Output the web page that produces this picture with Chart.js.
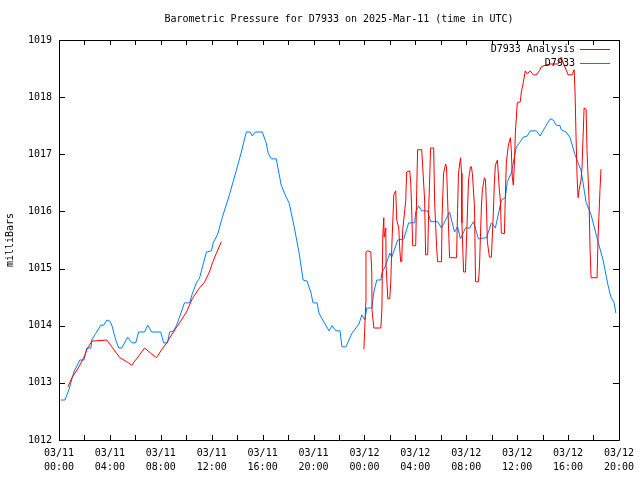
<!DOCTYPE html>
<html>
<head>
<meta charset="utf-8">
<title>Barometric Pressure for D7933</title>
<script src="https://cdn.jsdelivr.net/npm/chart.js@4/dist/chart.umd.min.js"></script>
<style>
  html, body { margin: 0; padding: 0; background: #fff; }
  #wrap { width: 640px; height: 480px; }
</style>
</head>
<body>
<div id="wrap"><canvas id="chart" width="640" height="480"></canvas></div>
<script>
// ── Data (hours since 03/11 00:00 UTC, millibars) ────────────
const titleText = 'Barometric Pressure for D7933 on 2025-Mar-11 (time in UTC)';
const tickDates = ['03/11', '03/11', '03/11', '03/11', '03/11', '03/11',
                   '03/12', '03/12', '03/12', '03/12', '03/12', '03/12'];
const tickTimes = ['00:00', '04:00', '08:00', '12:00', '16:00', '20:00',
                   '00:00', '04:00', '08:00', '12:00', '16:00', '20:00'];

const stationHours = [
    0.13, 0.47, 0.78, 1.17, 1.64, 1.96, 2.19, 2.51, 2.58, 2.90, 3.29, 3.52, 3.76, 3.99,
    4.15, 4.46, 4.70, 4.93, 5.40, 5.72, 6.03, 6.26, 6.73, 6.97, 7.28, 7.99, 8.22, 8.53,
    8.69, 9.00, 9.24, 9.47, 9.86, 10.26, 10.49, 10.80, 11.04, 11.27, 11.59, 11.98, 12.13,
    12.45, 12.84, 13.39, 13.94, 14.33, 14.72, 15.03, 15.19, 15.42, 15.97, 16.28, 16.44,
    16.68, 17.07, 17.46, 17.85, 18.08, 18.48, 18.87, 19.18, 19.49, 19.81, 19.96, 20.28,
    20.43, 20.67, 21.22, 21.45, 21.76, 22.08, 22.23, 22.55, 23.02, 23.57, 23.80, 24.03,
    24.19, 24.58, 24.74, 24.97, 25.29, 25.37, 25.68, 25.99, 26.15, 26.62, 27.09, 27.48,
    27.95, 28.03, 28.26, 28.50, 28.97, 29.20, 29.75, 30.06, 30.69, 31.08, 31.32, 31.55,
    31.94, 32.26, 32.57, 32.96, 33.59, 33.98, 34.29, 34.76, 35.07, 35.23, 35.54, 35.94,
    36.25, 36.48, 36.80, 37.03, 37.50, 37.81, 38.21, 38.60, 38.83, 39.07, 39.38, 39.46,
    39.85, 40.16, 40.55, 41.02, 41.42, 41.81, 42.36, 42.75, 43.14, 43.37, 43.61, 43.76
];
const stationPressure = [
    1012.70, 1012.70, 1012.88, 1013.19, 1013.40, 1013.40, 1013.61, 1013.61, 1013.75, 1013.87,
    1014.01, 1014.01, 1014.10, 1014.08, 1014.01, 1013.75, 1013.61, 1013.61, 1013.80, 1013.70,
    1013.70, 1013.89, 1013.89, 1014.01, 1013.89, 1013.89, 1013.70, 1013.70, 1013.89, 1013.91,
    1014.01, 1014.15, 1014.40, 1014.40, 1014.57, 1014.75, 1014.83, 1015.03, 1015.29, 1015.31,
    1015.46, 1015.59, 1015.90, 1016.29, 1016.72, 1017.04, 1017.39, 1017.39, 1017.32, 1017.39,
    1017.39, 1017.20, 1017.02, 1016.92, 1016.92, 1016.46, 1016.25, 1016.15, 1015.73, 1015.27,
    1014.80, 1014.78, 1014.57, 1014.40, 1014.40, 1014.22, 1014.12, 1013.91, 1014.00, 1013.91,
    1013.91, 1013.63, 1013.63, 1013.87, 1014.03, 1014.19, 1014.10, 1014.31, 1014.31, 1014.59,
    1014.80, 1014.80, 1014.92, 1015.06, 1015.27, 1015.20, 1015.50, 1015.52, 1015.80, 1015.80,
    1015.99, 1016.10, 1016.01, 1016.01, 1015.82, 1015.82, 1015.71, 1015.99, 1015.64, 1015.73,
    1015.52, 1015.71, 1015.71, 1015.82, 1015.52, 1015.54, 1015.80, 1015.71, 1016.20, 1016.24,
    1016.52, 1016.67, 1017.13, 1017.22, 1017.30, 1017.32, 1017.41, 1017.41, 1017.32, 1017.48,
    1017.62, 1017.60, 1017.51, 1017.50, 1017.43, 1017.39, 1017.29, 1016.99, 1016.72, 1016.16,
    1015.94, 1015.47, 1015.15, 1014.71, 1014.50, 1014.41, 1014.22
];

// analysis series has a gap (null) between the two runs
const analysisHours = [
    0.70, 1.02, 1.57, 1.96, 2.19, 2.58, 3.76, 4.15, 4.78, 5.25, 5.72, 6.26, 6.73, 7.20,
    7.67, 8.06, 8.46, 8.93, 9.47, 10.02, 10.49, 11.04, 11.43, 11.82, 12.06, 12.37, 12.76,
    18.00,
    23.96, 24.11, 24.12, 24.27, 24.50, 24.58, 24.60, 24.74, 25.29, 25.37, 25.44, 25.52,
    25.55, 25.68, 25.70, 25.84, 25.99, 26.07, 26.15, 26.31, 26.46, 26.54, 26.70, 26.78,
    26.85, 26.93, 27.01, 27.24, 27.32, 27.56, 27.64, 27.71, 27.79, 28.03, 28.11, 28.18,
    28.50, 28.58, 28.73, 28.81, 28.97, 29.05, 29.20, 29.44, 29.52, 29.67, 29.75, 30.06,
    30.10, 30.22, 30.38, 30.45, 30.53, 30.69, 31.24, 31.32, 31.39, 31.55, 31.63, 31.66,
    31.79, 31.94, 32.02, 32.18, 32.33, 32.41, 32.49, 32.65, 32.73, 32.96, 33.04, 33.19,
    33.27, 33.43, 33.51, 33.59, 33.66, 33.82, 33.98, 34.06, 34.13, 34.21, 34.29, 34.45,
    34.60, 34.68, 34.76, 35.00, 35.07, 35.15, 35.31, 35.47, 35.54, 35.62, 35.70, 35.78,
    35.86, 36.01, 36.25, 36.33, 36.48, 36.64, 36.80, 37.03, 37.27, 37.50, 37.74, 37.89,
    38.21, 38.60, 39.22, 39.46, 39.69, 40.01, 40.32, 40.48, 40.55, 40.63, 40.71, 40.79,
    40.87, 41.02, 41.10, 41.18, 41.26, 41.42, 41.49, 41.65, 41.73, 41.81, 42.28, 42.36,
    42.51, 42.59
];
const analysisPressure = [
    1012.93, 1013.09, 1013.28, 1013.45, 1013.58, 1013.73, 1013.75, 1013.63, 1013.44, 1013.38,
    1013.31, 1013.47, 1013.61, 1013.52, 1013.44, 1013.58, 1013.70, 1013.87, 1014.05, 1014.24,
    1014.48, 1014.66, 1014.76, 1014.94, 1015.10, 1015.27, 1015.47,
    null,
    1013.59, 1014.41, 1015.29, 1015.31, 1015.29, 1014.92, 1014.27, 1013.96, 1013.96, 1014.27,
    1015.55, 1015.89, 1015.55, 1015.71, 1015.06, 1014.47, 1014.47, 1014.76, 1015.38, 1016.29,
    1016.36, 1015.85, 1015.71, 1015.33, 1015.12, 1015.12, 1015.68, 1016.17, 1016.69, 1016.71,
    1016.50, 1016.06, 1015.40, 1015.40, 1016.38, 1017.08, 1017.08, 1016.78, 1016.20, 1015.24,
    1015.24, 1016.03, 1017.11, 1017.11, 1016.15, 1015.38, 1015.12, 1015.12, 1015.90, 1016.67,
    1016.83, 1016.78, 1016.25, 1015.19, 1015.19, 1016.03, 1016.67, 1016.94, 1016.67, 1015.80,
    1014.94, 1014.94, 1015.50, 1016.55, 1016.78, 1016.78, 1016.64, 1016.08, 1014.77, 1014.77,
    1015.03, 1016.08, 1016.38, 1016.59, 1016.55, 1016.08, 1015.47, 1015.20, 1015.20, 1015.62,
    1015.97, 1016.50, 1016.81, 1016.90, 1016.38, 1016.20, 1015.62, 1015.61, 1016.25, 1016.85,
    1017.16, 1017.29, 1017.08, 1016.60, 1016.46, 1016.81, 1017.37, 1017.90, 1017.92, 1018.09,
    1018.25, 1018.46, 1018.41, 1018.46, 1018.39, 1018.39, 1018.46, 1018.53, 1018.56, 1018.58,
    1018.58, 1018.70, 1018.56, 1018.39, 1018.39, 1018.48, 1018.09, 1017.30, 1016.60, 1016.24,
    1016.38, 1016.55, 1016.78, 1017.30, 1017.81, 1017.79, 1017.08, 1016.20, 1015.33, 1014.84,
    1014.84, 1015.55, 1016.38, 1016.74
];

// ── Helpers ──────────────────────────────────────────────────
const FONT = '"DejaVu Sans Mono", "Liberation Mono", monospace';
const RED = '#ff0000';
const BLUE = '#0080ff';

function pairs(xs, ys) {
    return xs.map((x, i) => ({ x: x, y: ys[i] }));
}

// gnuplot-like frame: border, inward ticks, title, legend
const gnuplotFrame = {
    id: 'gnuplotFrame',
    afterDraw(chart) {
        const { ctx, chartArea: a, scales } = chart;
        const xs = scales.x, ys = scales.y;
        ctx.save();
        ctx.strokeStyle = '#000';
        ctx.lineWidth = 1;
        ctx.beginPath();
        ctx.rect(Math.round(a.left) + 0.5, Math.round(a.top) + 0.5,
                 Math.round(a.right - a.left), Math.round(a.bottom - a.top));
        ctx.stroke();

        ctx.beginPath();
        for (let h = 0; h <= 44; h += 2) {
            const px = Math.round(xs.getPixelForValue(h)) + 0.5;
            ctx.moveTo(px, a.bottom); ctx.lineTo(px, a.bottom - 5);
            ctx.moveTo(px, a.top); ctx.lineTo(px, a.top + 5);
        }
        for (let v = 1012; v <= 1019; v++) {
            const py = Math.round(ys.getPixelForValue(v)) + 0.5;
            ctx.moveTo(a.left, py); ctx.lineTo(a.left + 6, py);
            ctx.moveTo(a.right, py); ctx.lineTo(a.right - 6, py);
        }
        ctx.stroke();

        // title centred over the plot area
        ctx.fillStyle = '#000';
        ctx.font = '10px ' + FONT;
        ctx.textAlign = 'center';
        ctx.textBaseline = 'middle';
        ctx.fillText(titleText, (a.left + a.right) / 2, 19);

        // legend, text then sample line, top-right inside the plot
        ctx.textAlign = 'right';
        chart.data.datasets.forEach((ds, i) => {
            const y = Math.round(a.top + 9 + i * 14);
            ctx.fillStyle = '#000';
            ctx.fillText(ds.label, a.right - 44, y);
            ctx.fillStyle = ds.borderColor;
            ctx.fillRect(Math.round(a.right - 39), y, 30, 1);
        });
        ctx.restore();
    }
};

// ── Chart ────────────────────────────────────────────────────
new Chart(document.getElementById('chart'), {
    type: 'line',
    data: {
        datasets: [
            {
                label: 'D7933 Analysis',
                data: pairs(analysisHours, analysisPressure),
                borderColor: RED,
                borderWidth: 1,
                pointRadius: 0,
                spanGaps: false,
                tension: 0
            },
            {
                label: 'D7933',
                data: pairs(stationHours, stationPressure),
                borderColor: BLUE,
                borderWidth: 1,
                pointRadius: 0,
                tension: 0
            }
        ]
    },
    options: {
        responsive: false,
        animation: false,
        devicePixelRatio: 1,
        layout: { padding: { left: 0, right: 19, top: 40, bottom: 0 } },
        plugins: {
            legend: { display: false },
            title: { display: false },
            tooltip: { enabled: false }
        },
        scales: {
            x: {
                type: 'linear',
                min: 0,
                max: 44,
                afterFit: s => { s.height = 40; },
                afterBuildTicks: s => {
                    s.ticks = tickTimes.map((_, i) => ({ value: i * 4 }));
                },
                grid: { display: false, drawTicks: false },
                border: { display: false },
                ticks: {
                    padding: 6,
                    maxRotation: 0,
                    autoSkip: false,
                    color: '#000',
                    font: { family: FONT, size: 10, lineHeight: 1.4 },
                    callback: (v, i) => [tickDates[i], tickTimes[i]]
                }
            },
            y: {
                min: 1012,
                max: 1019,
                afterFit: s => { s.width = 59; },
                grid: { display: false, drawTicks: false },
                border: { display: false },
                ticks: {
                    stepSize: 1,
                    padding: 7,
                    color: '#000',
                    font: { family: FONT, size: 10 },
                    callback: v => String(v)
                },
                title: {
                    display: true,
                    text: 'milliBars',
                    color: '#000',
                    padding: { top: 4, bottom: 0 },
                    font: { family: FONT, size: 10 }
                }
            }
        }
    },
    plugins: [gnuplotFrame]
});
</script>
</body>
</html>
